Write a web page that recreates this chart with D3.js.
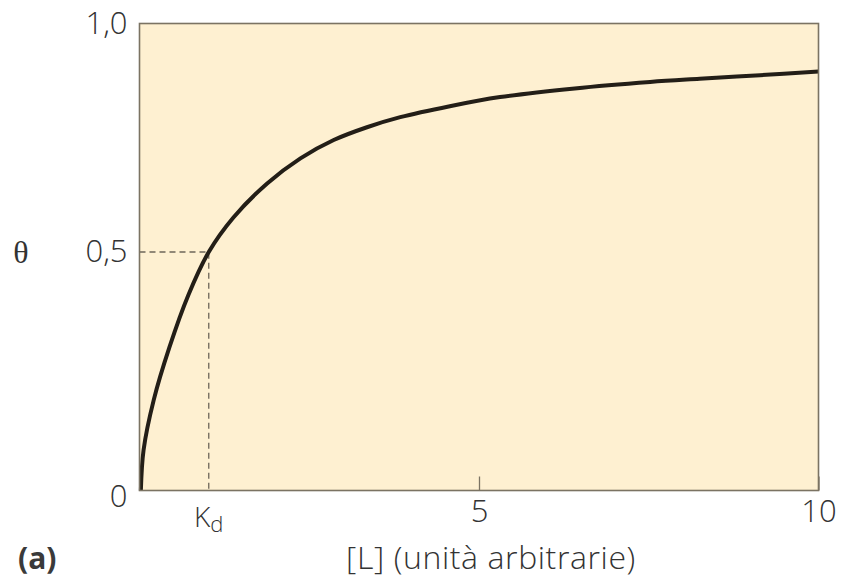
<!DOCTYPE html>
<html>
<head>
<meta charset="utf-8">
<script src="https://cdn.jsdelivr.net/npm/d3@7"></script>
<style>
  body { margin: 0; background: #fff; }
  text { font-family: "Open Sans", Lato, sans-serif; font-weight: 300; fill: #333; }
</style>
</head>
<body>
<div id="chart"></div>
<script>
// Ligand concentration [L] and fractional saturation theta
var conc  = [0.02, 0.06, 0.21, 0.44, 0.72, 1.02, 1.38, 1.88, 2.37, 2.86, 3.35, 3.84, 4.57, 5.31, 6.41, 7.52, 8.25, 9.14, 10];
var theta = [0, 0.085, 0.19, 0.30, 0.41, 0.50, 0.575, 0.65, 0.705, 0.745, 0.773, 0.795, 0.819, 0.839, 0.858, 0.872, 0.879, 0.887, 0.895];

var kd = 1.02;
var x_ticks = [5, 10];
var y_ticks = [0, 0.5, 1];

var width  = 843;
var height = 585;
var left   = 139.5;
var right  = 818.5;
var top_y  = 23.5;
var bottom = 490.5;

var svg = d3.select('#chart')
    .append('svg')
    .attr('width', width)
    .attr('height', height);

// Scales
var scale_x = d3.scaleLinear()
    .domain([0, 10])
    .range([left, right]);

// the 0,5 label sits a little above the middle of the frame
var scale_y = d3.scaleLinear()
    .domain([0, 0.5, 1])
    .range([bottom, 252, top_y]);

// Plot background
svg.append('rect')
    .attr('x', left)
    .attr('y', top_y)
    .attr('width', right - left)
    .attr('height', bottom - top_y)
    .attr('fill', '#fef0d1');

// Dashed guides at Kd
svg.append('path')
    .attr('d', 'M' + scale_x(0) + ',' + scale_y(0.5) + 'H' + scale_x(kd) + 'V' + scale_y(0))
    .attr('fill', 'none')
    .attr('stroke', '#6e6659')
    .attr('stroke-width', 1.3)
    .attr('stroke-dasharray', '6,4');

// Curve
var line = d3.line()
    .x(function(d, i) { return scale_x(conc[i]); })
    .y(function(d, i) { return scale_y(theta[i]); })
    .curve(d3.curveCatmullRom.alpha(0.5));

svg.append('path')
    .datum(conc)
    .attr('d', line)
    .attr('fill', 'none')
    .attr('stroke', '#231e17')
    .attr('stroke-width', 4)
    .attr('stroke-linecap', 'butt');

// Frame
svg.append('rect')
    .attr('x', left)
    .attr('y', top_y)
    .attr('width', right - left)
    .attr('height', bottom - top_y)
    .attr('fill', 'none')
    .attr('stroke', '#7b7363')
    .attr('stroke-width', 1.6);

// Axes
var axis_x = d3.axisBottom(scale_x)
    .tickValues(x_ticks)
    .tickSizeInner(-14)
    .tickSizeOuter(0)
    .tickPadding(9)
    .tickFormat(d3.format('d'));

var gx = svg.append('g')
    .attr('class', 'x-axis')
    .attr('transform', 'translate(0,' + bottom + ')')
    .call(axis_x);

var axis_y = d3.axisLeft(scale_y)
    .tickValues(y_ticks)
    .tickSize(0)
    .tickPadding(12)
    .tickFormat(function(d) { return d === 0 ? '0' : d.toFixed(1).replace('.', ','); });

var gy = svg.append('g')
    .attr('class', 'y-axis')
    .attr('transform', 'translate(' + left + ',0)')
    .call(axis_y);

svg.selectAll('.x-axis .domain, .y-axis .domain').remove();
svg.selectAll('.x-axis line').attr('stroke', '#7b7363').attr('stroke-width', 1.3);
svg.selectAll('.tick text')
    .attr('font-family', '"Open Sans", Lato, sans-serif')
    .attr('font-weight', 300)
    .attr('font-size', 31)
    .attr('fill', '#333');
gy.selectAll('.tick').filter(function(d) { return d === 0; })
    .select('text').attr('dy', '0.52em');

// Kd label
var kd_label = svg.append('text')
    .attr('x', scale_x(kd))
    .attr('y', 527)
    .attr('text-anchor', 'middle')
    .attr('font-size', 28);
kd_label.append('tspan').text('K');
kd_label.append('tspan').attr('dy', 5).attr('font-size', 22).text('d');

// Axis titles
svg.append('text')
    .attr('x', 21)
    .attr('y', 252)
    .attr('dy', '0.35em')
    .attr('text-anchor', 'middle')
    .style('font-family', '"Liberation Serif", "DejaVu Serif", serif')
    .style('font-weight', 400)
    .style('font-size', '32px')
    .text('θ');

svg.append('text')
    .attr('x', 491)
    .attr('y', 558)
    .attr('dy', '0.35em')
    .attr('text-anchor', 'middle')
    .attr('font-size', 32)
    .attr('letter-spacing', 0.6)
    .text('[L] (unità arbitrarie)');

svg.append('text')
    .attr('x', 18)
    .attr('y', 558)
    .attr('dy', '0.35em')
    .style('font-family', '"Open Sans", Lato, sans-serif')
    .style('font-weight', 700)
    .style('fill', '#3a3a3a')
    .style('font-size', '30px')
    .text('(a)');
</script>
</body>
</html>
